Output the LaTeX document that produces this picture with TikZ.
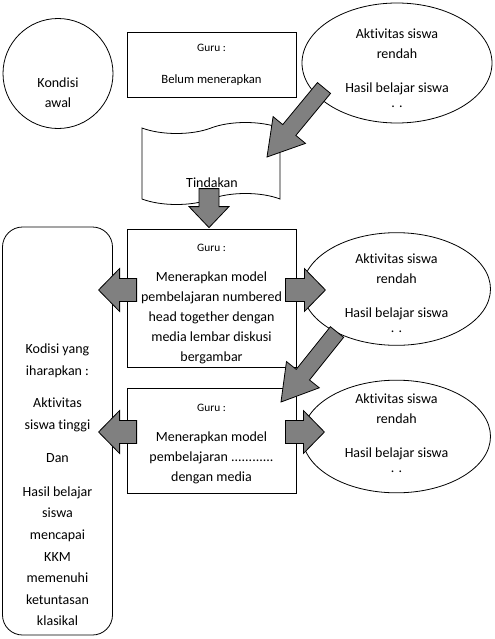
\documentclass[tikz,border=0pt]{standalone}
\usepackage{fontspec}
\setmainfont{Carlito}[Ligatures=NoCommon]
\usetikzlibrary{positioning,calc,shapes.geometric,shapes.symbols}

\newcommand\gurufont{\fontsize{8.5}{15}\selectfont}
% fat block arrow: tail, tip, shaft half width, head half width, head length (px)
\newcommand\fatarrow[5]{%
  \coordinate (fa-h) at ($(#2)!#5*0.75pt!(#1)$);
  \draw[blockarrow] ($(#1)!#3*0.75pt!90:(#2)$) -- ($(fa-h)!#3*0.75pt!90:(#2)$)
    -- ($(fa-h)!#4*0.75pt!90:(#2)$) -- (#2) -- ($(fa-h)!#4*0.75pt!-90:(#2)$)
    -- ($(fa-h)!#3*0.75pt!-90:(#2)$) -- ($(#1)!#3*0.75pt!-90:(#2)$) -- cycle;
}

\begin{document}
\begin{tikzpicture}[x=0.75pt, y=-0.75pt,
    line width=0.6pt,
    box/.style={draw, inner sep=0pt, minimum width=126.75pt, align=center, font=\fontsize{10.5}{15}\selectfont},
    bubble/.style={draw, ellipse, inner sep=0pt, minimum width=141pt, minimum height=84.5pt},
    txt/.style={inner sep=0pt, align=center, font=\fontsize{10.5}{15}\selectfont},
    blockarrow/.style={draw, fill=gray, line join=miter}
]
\useasboundingbox (0,0) rectangle (494,639);

% kondisi awal
\node[draw, circle, inner sep=0pt, minimum size=82.5pt] (awal) at (58,73.5) {};
\node[txt] (awaltxt) at (58,93) {Kondisi\\awal};
\node[box, minimum height=48.75pt] (guru1) at (211.5,64.5) {{\gurufont Guru :}\\[9pt]{\fontsize{9.5}{15}\selectfont Belum menerapkan}};
\node[bubble, minimum width=142.5pt, minimum height=90pt] (hasil1) at (397,63) {};
\node[txt] (hasil1txt) at (397,68) {Aktivitas siswa\\rendah\\[11pt]Hasil belajar siswa\\[-4pt]. .};

% tindakan
\node[draw, tape, inner sep=0pt, minimum width=103.5pt, minimum height=61.5pt, tape bend height=8.25pt] (tindakan) at (211,163.5) {};
\node[txt] (tindakantxt) at (212,183) {Tindakan};

% siklus
\node[box, minimum height=103.5pt] (guru2) at (211.5,298) {};
\node[txt] (guru2txt) at (211.5,304) {{\gurufont Guru :}\\[7pt]Menerapkan model\\pembelajaran numbered\\head together dengan\\media lembar diskusi\\bergambar};
\node[bubble] (hasil2) at (396.5,289) {};
\node[txt] (hasil2txt) at (396.5,293) {Aktivitas siswa\\rendah\\[11pt]Hasil belajar siswa\\[-4pt]. .};
\node[box, minimum height=78.75pt] (guru3) at (211.5,440.5) {};
\node[txt] (guru3txt) at (211.5,444) {{\gurufont Guru :}\\[7.5pt]Menerapkan model\\pembelajaran ............\\dengan media};
\node[bubble] (hasil3) at (396.5,436.5) {};
\node[txt] (hasil3txt) at (396.5,433) {Aktivitas siswa\\rendah\\[11pt]Hasil belajar siswa\\[-4pt]. .};

% kondisi yang diharapkan
\node[draw, rounded corners=15pt, minimum width=82.5pt, minimum height=306pt] (harapan) at (57.5,431) {};
\node[txt, font=\fontsize{10.5}{16.2}\selectfont] (harapantxt) at (57.5,485) {Kodisi yang\\iharapkan :\\[8pt]Aktivitas\\siswa tinggi\\[9pt]Dan\\[9pt]Hasil belajar\\siswa\\mencapai\\KKM\\memenuhi\\ketuntasan\\klasikal};

% panah
\coordinate (d1s) at ($(hasil1)+(-73,25)$);
\coordinate (d1e) at ($(tindakan)+(56,-6.5)$);
\coordinate (d2s) at ($(hasil2)+(-59.5,43)$);
\coordinate (d2e) at ($(guru3)+(69.5,-38.5)$);
\coordinate (dns) at ($(guru2.north)+(-2.5,-40)$);
\coordinate (dne) at ($(guru2.north)+(-2.5,-1)$);
\coordinate (l2s) at ($(guru2.west)+(10,-8)$);
\coordinate (l2e) at ($(guru2.west)+(-28,-8)$);
\coordinate (r2s) at ($(guru2.east)+(-11,-8)$);
\coordinate (r2e) at ($(guru2.east)+(29,-8)$);
\coordinate (l3s) at ($(guru3.west)+(10,-8.5)$);
\coordinate (l3e) at ($(guru3.west)+(-28,-8.5)$);
\coordinate (r3s) at ($(guru3.east)+(-11,-8.5)$);
\coordinate (r3e) at ($(guru3.east)+(28,-8.5)$);

\fatarrow{d1s}{d1e}{8.5}{21}{35}
\fatarrow{dns}{dne}{10}{20}{21}
\fatarrow{l2s}{l2e}{11.5}{21.5}{21}
\fatarrow{r2s}{r2e}{11.5}{21.5}{21}
\fatarrow{d2s}{d2e}{8.5}{21}{35}
\fatarrow{l3s}{l3e}{11.5}{21.5}{21}
\fatarrow{r3s}{r3e}{11.5}{21.5}{21}
\end{tikzpicture}
\end{document}
